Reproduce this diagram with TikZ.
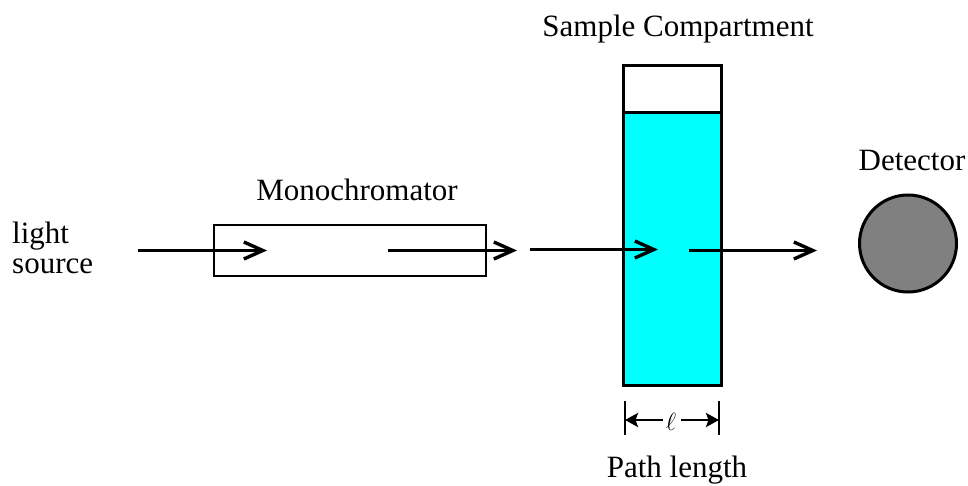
\documentclass[tikz,border=0pt]{standalone}
\usepackage{fontspec}
\setmainfont{Liberation Serif}
\usepackage{tikz}
\usetikzlibrary{arrows.meta,positioning,calc}
\definecolor{cellcyan}{RGB}{0,255,255}
\tikzstyle{label}=[inner sep=0pt,anchor=base,font=\fontsize{31}{34}\selectfont]
\tikzstyle{beam}=[line width=2.2pt,-{Straight Barb[length=19pt,width=17pt,line width=3.4pt]}]
\tikzstyle{cellbox}=[draw,line width=3pt,minimum width=98pt,outer sep=0pt,inner sep=0pt]
\tikzstyle{dimtip}=[line width=2.8pt,-{Stealth[length=13pt,width=14pt,inset=2.5pt]}]

\begin{document}
\begin{tikzpicture}[x=1pt,y=-1pt]
    \useasboundingbox (0,0) rectangle (968,486);
    % parts of the spectrometer
    \node [draw,line width=2.6pt,minimum width=272pt,minimum height=51pt,inner sep=0pt] (mono) at (350,250.5) {};
    \node [cellbox,fill=white,minimum height=47pt] (celltop) at (672,89.5) {};
    \node [cellbox,fill=cellcyan,minimum height=272pt,below=0pt of celltop] (cell) {};
    \node [draw,circle,line width=3pt,fill=gray,minimum size=97pt,inner sep=0pt] (detector) at (908,243.5) {};
    % texts
    \node [label,anchor=base west,align=left] (source) at (12,273) {light\\[-4pt]source};
    \node [label] (monolabel) at (357,201) {Monochromator};
    \node [label] (celllabel) at (678,37) {Sample Compartment};
    \node [label] (detlabel) at (912,171) {Detector};
    \node [label] (pathlabel) at (677,477) {Path length};
    % light path
    \coordinate (b1) at (138,250.5);
    \coordinate (e1) at (267,250.5);
    \coordinate (b2) at (388,250.5);
    \coordinate (e2) at (517,250.5);
    \coordinate (b3) at (530,249.5);
    \coordinate (e3) at (658,249.5);
    \coordinate (b4) at (689,250.5);
    \coordinate (e4) at (817,250.5);
    \foreach \i in {1,...,4}
      \draw [beam] (b\i) -- (e\i);
    % path length
    \coordinate (dl) at (625,420);
    \coordinate (dr) at (719,420);
    \node [label,anchor=center,font=\fontsize{34}{34}\selectfont] (ell) at (671,422) {$\ell$};
    \draw [line width=2.8pt] ($(dl)+(0,-19)$) -- ($(dl)+(0,15)$);
    \draw [line width=2.8pt] ($(dr)+(0,-19)$) -- ($(dr)+(0,15)$);
    \draw [dimtip] (ell.west |- dl) ++(-3,0) -- (dl);
    \draw [dimtip] (ell.east |- dr) ++(5,0) -- (dr);
\end{tikzpicture}
\end{document}
